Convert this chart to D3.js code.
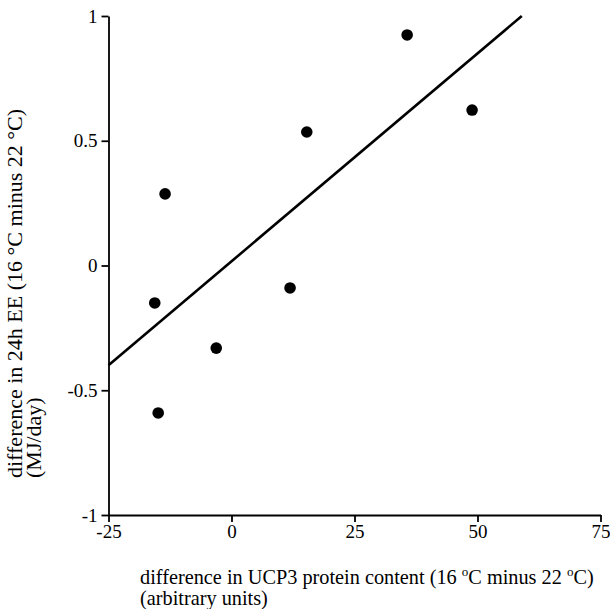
<!DOCTYPE html>
<html>
<head>
<meta charset="utf-8">
<script src="https://cdn.jsdelivr.net/npm/d3@7"></script>
<style>
  body { margin: 0; background: #fff; }
  svg { display: block; }
  .axis path, .axis line { stroke: #000; stroke-width: 1.8; }
  svg text { font-family: "Liberation Serif", "Times New Roman", serif; fill: #000; }
</style>
</head>
<body>
<div id="chart"></div>
<script>

// UCP3 difference (x) vs 24h EE difference (y)
var ucp3 = [-13.5, -15.6, -14.9, -3.1, 11.9, 15.3, 35.7, 48.9];
var ee24 = [0.287, -0.150, -0.591, -0.331, -0.090, 0.535, 0.924, 0.623];

// regression line end points
var fitX = [-25, 59];
var fitY = [-0.40, 1.00];

var xTicks = [-25, 0, 25, 50, 75];
var yTicks = [-1, -0.5, 0, 0.5, 1];

var width = 610, height = 609;

var svg = d3.select("#chart").append("svg")
  .attr("width", width)
  .attr("height", height);

var x = d3.scaleLinear().domain([-25, 75]).range([108.5, 600.5]);
var y = d3.scaleLinear().domain([-1, 1]).range([515, 16]);

var xAxis = d3.axisBottom(x)
  .tickValues(xTicks)
  .tickFormat(function(d) { return String(d); })
  .tickSize(7)
  .tickSizeOuter(0)
  .tickPadding(3);

var yAxis = d3.axisLeft(y)
  .tickValues(yTicks)
  .tickFormat(function(d) { return String(d); })
  .tickSize(7)
  .tickSizeOuter(0)
  .tickPadding(4);

svg.append("g")
  .attr("class", "x axis")
  .attr("transform", "translate(0," + y(-1) + ")")
  .call(xAxis);

svg.append("g")
  .attr("class", "y axis")
  .attr("transform", "translate(" + x(-25) + ",0)")
  .call(yAxis);

svg.selectAll(".axis text")
  .style("font-family", "'Liberation Serif', 'Times New Roman', serif")
  .style("font-size", "19px")
  .style("fill", "#000");

// fit line
var fit = fitX.map(function(d, i) { return [d, fitY[i]]; });
svg.append("path")
  .datum(fit)
  .attr("fill", "none")
  .attr("stroke", "#000")
  .attr("stroke-width", 2.6)
  .attr("d", d3.line()
    .x(function(d) { return x(d[0]); })
    .y(function(d) { return y(d[1]); }));

// points
svg.selectAll("circle.pt")
  .data(ucp3)
  .enter()
  .append("circle")
  .attr("class", "pt")
  .attr("cx", function(d) { return x(d); })
  .attr("cy", function(d, i) { return y(ee24[i]); })
  .attr("r", 5.8)
  .attr("fill", "#000");

// x title
var xt = svg.append("text")
  .attr("font-size", 20.3)
  .attr("x", 140)
  .attr("y", 584);
xt.append("tspan").text("difference in UCP3 protein content (16 ");
xt.append("tspan").attr("font-size", 13).attr("dy", -8).text("o");
xt.append("tspan").attr("dy", 8).text("C minus 22 ");
xt.append("tspan").attr("font-size", 13).attr("dy", -8).text("o");
xt.append("tspan").attr("dy", 8).text("C)");

svg.append("text")
  .attr("font-size", 20.3)
  .attr("x", 140)
  .attr("y", 605)
  .text("(arbitrary units)");

// y title
var yt = svg.append("g")
  .attr("transform", "translate(22,478) rotate(-90)");

yt.append("text")
  .attr("font-size", 22)
  .attr("x", 0)
  .attr("y", 0)
  .text("difference in 24h EE (16 \u00B0C minus 22 \u00B0C)");

yt.append("text")
  .attr("font-size", 22)
  .attr("x", 0)
  .attr("y", 19)
  .text("(MJ/day)");

</script>
</body>
</html>
